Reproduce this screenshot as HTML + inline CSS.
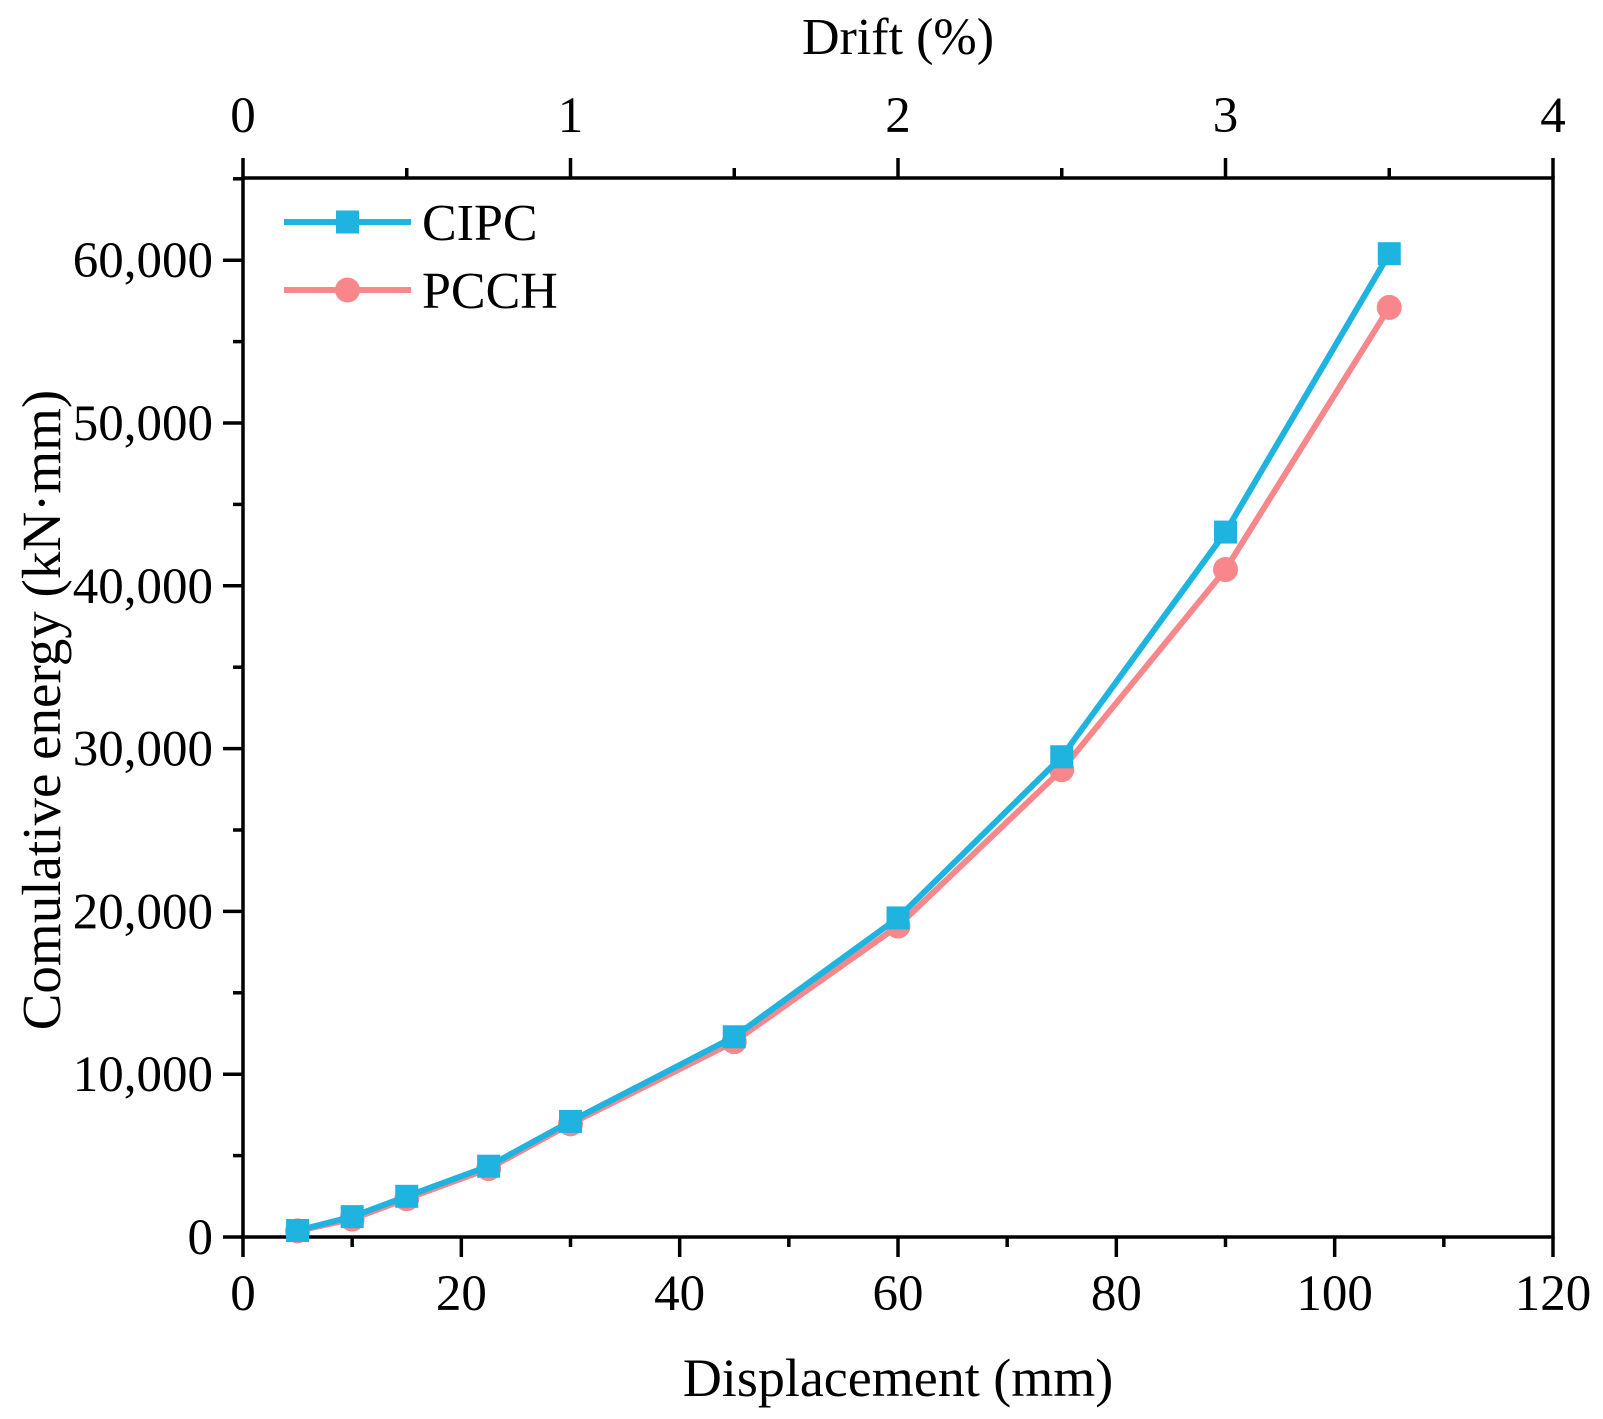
<!DOCTYPE html>
<html><head><meta charset="utf-8"><style>
body{margin:0;background:#fff}
svg{display:block;font-family:"Liberation Serif",serif}
</style></head><body>
<svg id="chart" width="1603" height="1419" xmlns="http://www.w3.org/2000/svg"></svg>
<script>
const xValues=[5,10,15,22.5,30,45,60,75,90,105];
const cipcValues=[400,1250,2500,4350,7100,12300,19600,29500,43300,60400];
const pcchValues=[380,1100,2350,4200,6950,12000,19100,28700,41000,57100];
const xTicks=[0,20,40,60,80,100,120];
const yTicks=[0,10000,20000,30000,40000,50000,60000];
const yTickLabels=["0","10,000","20,000","30,000","40,000","50,000","60,000"];
const driftTicks=[0,1,2,3,4];

const L=243,R=1553,T=178,B=1237;
const sx=v=>L+(v/120)*(R-L);
const sy=v=>B-(v/10000)*162.8;
const sd=v=>L+(v/4)*(R-L);
const svg=document.getElementById('chart');
const NS='http://www.w3.org/2000/svg';
function mk(tag,attrs,parent){const e=document.createElementNS(NS,tag);for(const k in attrs)e.setAttribute(k,attrs[k]);(parent||svg).appendChild(e);return e;}
function txt(s,attrs,parent){const e=mk('text',attrs,parent);e.textContent=s;return e;}

const frame=mk('rect',{x:L,y:T,width:R-L,height:B-T,fill:'none',stroke:'#000','stroke-width':3.5});



for(let v=0;v<=120;v+=10){const major=v%20===0;mk('line',{x1:sx(v),x2:sx(v),y1:B,y2:B+(major?20:10),stroke:'#000','stroke-width':3.5});}
xTicks.forEach(v=>{const t=txt(String(v),{x:sx(v),y:1310,'font-size':51,'text-anchor':'middle'});

});
for(let v=0;v<=65000;v+=5000){const major=v%10000===0;mk('line',{x1:L,x2:L-(major?20:10),y1:sy(v),y2:sy(v),stroke:'#000','stroke-width':3.5});}
yTicks.forEach((v,i)=>{const t=txt(yTickLabels[i],{x:213,y:sy(v)+17,'font-size':51,'text-anchor':'end'});

});
for(let v=0;v<=4;v+=0.5){const major=v%1===0;mk('line',{x1:sd(v),x2:sd(v),y1:T,y2:T-(major?20:10),stroke:'#000','stroke-width':3.5});}
driftTicks.forEach(v=>{const t=txt(String(v),{x:sd(v),y:132,'font-size':51,'text-anchor':'middle'});

});

let t=txt('Drift (%)',{x:898,y:54,'font-size':52,'text-anchor':'middle'});


t=txt('Displacement (mm)',{x:898,y:1396,'font-size':54,'text-anchor':'middle'});


t=txt('Comulative energy  (kN·mm)',{x:0,y:0,'font-size':55,'text-anchor':'middle',transform:'translate(60,710) rotate(-90)'});



function series(vals,color,marker,name){
  const g=mk('g',{});
  
  
  const pts=xValues.map((x,i)=>sx(x)+','+sy(vals[i])).join(' ');
  mk('polyline',{points:pts,fill:'none',stroke:color,'stroke-width':6,'stroke-linejoin':'round'},g);
  xValues.forEach((x,i)=>{
    let m;
    if(marker==='square')m=mk('rect',{x:sx(x)-11.5,y:sy(vals[i])-11.5,width:23,height:23,fill:color},g);
    else m=mk('circle',{cx:sx(x),cy:sy(vals[i]),r:12.5,fill:color},g);
    
    
  });
}
series(pcchValues,'#f7878a','circle','pcch');
series(cipcValues,'#1fb4e0','square','cipc');

const lg=mk('g',{});


mk('line',{x1:284,x2:411,y1:222,y2:222,stroke:'#1fb4e0','stroke-width':6},lg);
mk('rect',{x:336,y:210.5,width:23,height:23,fill:'#1fb4e0'},lg);
t=txt('CIPC',{x:422,y:240,'font-size':52},lg);


mk('line',{x1:284,x2:411,y1:290,y2:290,stroke:'#f7878a','stroke-width':6},lg);
mk('circle',{cx:347.5,cy:290,r:12.5,fill:'#f7878a'},lg);
t=txt('PCCH',{x:422,y:308,'font-size':52},lg);


</script>
</body></html>
